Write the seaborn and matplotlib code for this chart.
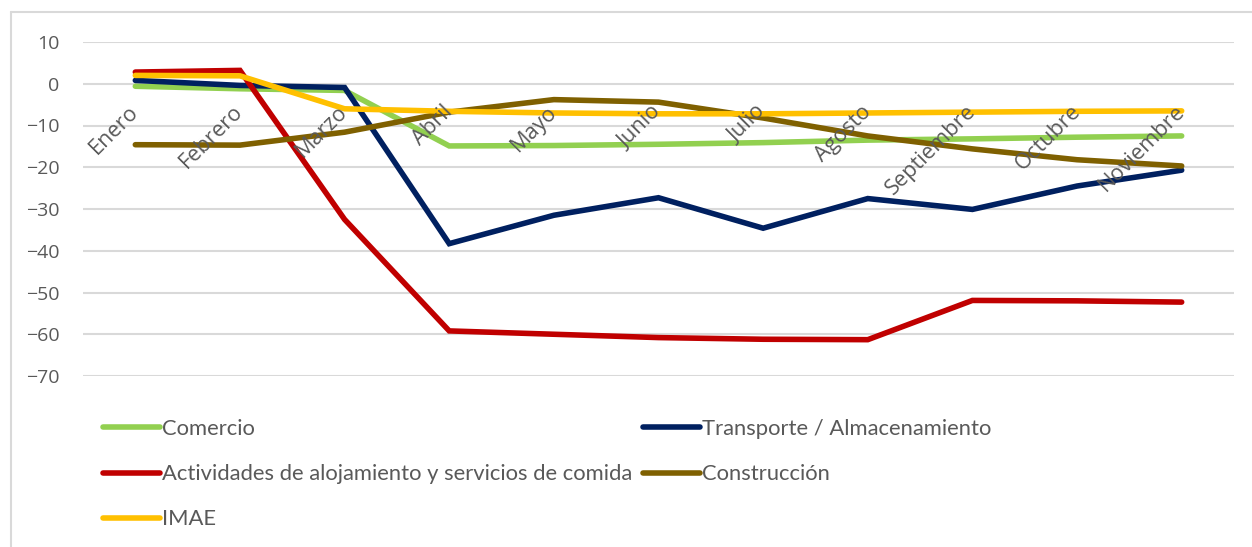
import pandas as pd
import matplotlib.pyplot as plt
import seaborn as sns
from matplotlib.lines import Line2D

meses = ['Enero', 'Febrero', 'Marzo', 'Abril', 'Mayo', 'Junio', 'Julio',
         'Agosto', 'Septiembre', 'Octubre', 'Noviembre']

comercio = [-0.6, -1.2, -1.6, -14.9, -14.8, -14.5, -14.1, -13.5, -13.2, -12.8, -12.5]
transporte = [0.8, -0.4, -0.9, -38.3, -31.5, -27.3, -34.6, -27.5, -30.1, -24.5, -20.7]
alojamiento = [2.8, 3.2, -32.5, -59.2, -60.0, -60.8, -61.2, -61.3, -51.9, -52.0, -52.3]
construccion = [-14.6, -14.7, -11.6, -6.8, -3.8, -4.4, -8.2, -12.5, -15.6, -18.2, -19.7]
imae = [2.0, 1.9, -6.0, -6.6, -7.0, -7.2, -7.2, -7.0, -6.8, -6.6, -6.5]

series = ['Comercio', 'Transporte / Almacenamiento',
          'Actividades de alojamiento y servicios de comida',
          'Construcción', 'IMAE']
colores = ['#92D050', '#002060', '#C00000', '#7F6000', '#FFC000']

df = pd.DataFrame({
    'Mes': meses * 5,
    'Valor': comercio + transporte + alojamiento + construccion + imae,
    'Serie': [s for s in series for _ in meses],
})

sns.set_style('white')
plt.rcParams['font.family'] = ['Open Sans', 'DejaVu Sans']
gris = '#595959'

W, H = 1252, 547
fig = plt.figure(figsize=(W / 100, H / 100), dpi=100)
ax = fig.add_axes([83 / W, 1 - 376 / H, (1234 - 83) / W, (376 - 42) / H])

sns.lineplot(data=df, x='Mes', y='Valor', hue='Serie', hue_order=series,
             palette=colores, linewidth=4.0, sort=False, ax=ax,
             solid_capstyle='round', solid_joinstyle='miter')

ax.set_xlim(-0.5, 10.5)
ax.set_ylim(-70, 10)
ax.set_yticks(range(-70, 11, 10))
ax.yaxis.grid(True, color='#d9d9d9', linewidth=1.5)
ax.set_axisbelow(True)
ax.xaxis.set_zorder(5)  # month labels sit on top of the lines
for s in ax.spines.values():
    s.set_visible(False)
ax.spines['bottom'].set_position(('data', 0))
ax.set_xlabel('')
ax.set_ylabel('')
ax.tick_params(axis='y', length=0, pad=17, labelsize=14, labelcolor=gris)
ax.tick_params(axis='x', length=0, pad=18, labelsize=15.7, labelcolor=gris)
for lab in ax.get_xticklabels():
    lab.set_rotation(45)
    lab.set_ha('right')
    lab.set_va('center')
    lab.set_rotation_mode('anchor')

ax.get_legend().remove()
handles = [Line2D([], [], color=c, linewidth=4.0, solid_capstyle='round')
           for c in colores]

leg_kw = dict(frameon=False, loc='upper left', borderpad=0, borderaxespad=0,
              handlelength=2.6, handletextpad=0.1, labelspacing=1.15,
              prop={'family': 'Lato', 'size': 15.8}, labelcolor=gris,
              bbox_transform=fig.transFigure)
leg1 = fig.legend([handles[0], handles[2], handles[4]],
                  [series[0], series[2], series[4]],
                  bbox_to_anchor=(103 / W, 1 - 419 / H), **leg_kw)
leg2 = fig.legend([handles[1], handles[3]], [series[1], series[3]],
                  bbox_to_anchor=(643 / W, 1 - 419 / H), **leg_kw)

# chart border (only top and left visible in the crop)
fig.add_artist(Line2D([11 / W, 1], [1 - 12 / H, 1 - 12 / H],
                      color='#d9d9d9', linewidth=1.5, transform=fig.transFigure))
fig.add_artist(Line2D([11 / W, 11 / W], [0, 1 - 12 / H],
                      color='#d9d9d9', linewidth=1.5, transform=fig.transFigure))

fig.savefig('out.png', dpi=100)
